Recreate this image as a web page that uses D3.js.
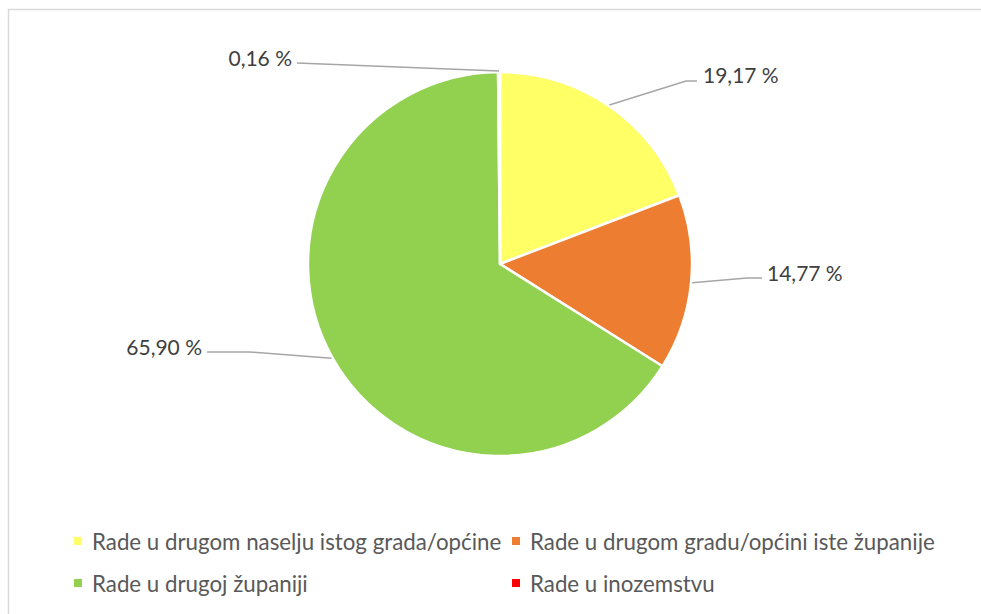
<!DOCTYPE html>
<html>
<head>
<meta charset="utf-8">
<script src="https://cdn.jsdelivr.net/npm/d3@7"></script>
<style>
  body { margin: 0; background: #fff; }
  svg text { font-family: Lato, "Open Sans", sans-serif; }
</style>
</head>
<body>
<div id="chart"></div>
<script>
// data
const categories = [
  "Rade u drugom naselju istog grada/općine",
  "Rade u drugom gradu/općini iste županije",
  "Rade u drugoj županiji",
  "Rade u inozemstvu"
];
const shares = [19.17, 14.77, 65.90, 0.16];
const colors = ["#FFFF66", "#ED7D31", "#92D050", "#FF0000"];

const width = 981, height = 614;
const cx = 500, cy = 264, radius = 192;

// position of the label (leader end, elbow) relative to the pie centre
const labelLayout = [
  {end: [197, -183], elbow: [186, -183], anchor: "start", dx: 6, dy: -7},
  {end: [262, 14], elbow: [247, 14], anchor: "start", dx: 5, dy: -6},
  {end: [-293, 88], elbow: [-250, 88], anchor: "end", dx: -5, dy: -6},
  {end: [-203, -201], elbow: [-203, -201], anchor: "end", dx: -5, dy: -6}
];

const svg = d3.select("#chart").append("svg")
    .attr("width", width)
    .attr("height", height);

// cadre du graphique
svg.append("rect")
    .attr("x", 8.5).attr("y", 9.5)
    .attr("width", width).attr("height", height)
    .attr("fill", "#fff")
    .attr("stroke", "#d9d9d9")
    .attr("stroke-width", 1.5);

const pie = d3.pie().sort(null).value(d => d);
const arcs = pie(shares);
const arc = d3.arc().innerRadius(0).outerRadius(radius);

const g = svg.append("g").attr("transform", `translate(${cx},${cy})`);

g.selectAll("path.slice").data(arcs).enter()
    .append("path")
    .attr("class", "slice")
    .attr("d", arc)
    .attr("fill", (d, i) => colors[i])
    .attr("stroke", "#fff")
    .attr("stroke-width", 2.5)
    .attr("stroke-linejoin", "round");

// lignes de rappel
const fmt = v => v.toFixed(2).replace(".", ",") + " %";
arcs.forEach((d, i) => {
    const a = (d.startAngle + d.endAngle) / 2;
    const p0 = [(radius + 1) * Math.sin(a), -(radius + 1) * Math.cos(a)];
    const L = labelLayout[i];
    g.append("polyline")
        .attr("points", [p0, L.elbow, L.end].map(p => p.join(",")).join(" "))
        .attr("fill", "none")
        .attr("stroke", "#a6a6a6")
        .attr("stroke-width", 1.5);
    g.append("text")
        .attr("x", L.end[0] + L.dx)
        .attr("y", L.end[1] + L.dy)
        .attr("text-anchor", L.anchor)
        .attr("dominant-baseline", "central")
        .attr("fill", "#404040")
        .style("font-size", "21px")
        .text(fmt(shares[i]));
});

// légende
const legendCols = [74, 512], legendRows = [541, 583];
const legend = svg.append("g");
categories.forEach((c, i) => {
    const x = legendCols[i % 2], y = legendRows[Math.floor(i / 2)];
    legend.append("rect")
        .attr("x", x).attr("y", y - 4)
        .attr("width", 8).attr("height", 8)
        .attr("fill", colors[i]);
    legend.append("text")
        .attr("x", x + 18).attr("y", y)
        .attr("dominant-baseline", "central")
        .attr("fill", "#595959")
        .style("font-size", "22.3px")
        .text(c);
});
</script>
</body>
</html>
